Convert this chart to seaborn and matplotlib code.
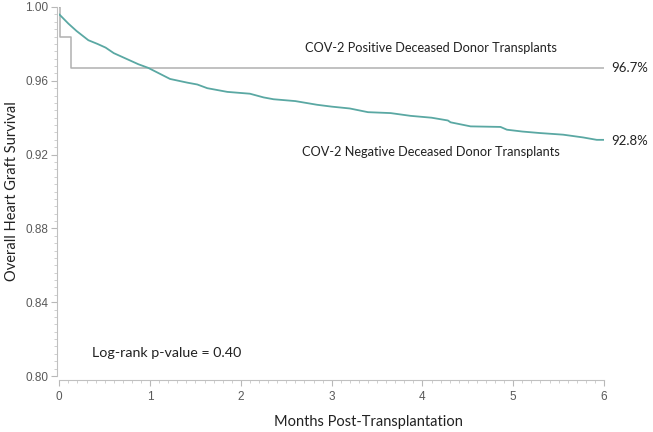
import numpy as np
import pandas as pd
import matplotlib
matplotlib.use("Agg")
import matplotlib.pyplot as plt
import seaborn as sns
from matplotlib.ticker import MultipleLocator

# Kaplan-Meier readings (months, survival)
neg_months = [0.00, 0.02, 0.10, 0.19, 0.32, 0.42, 0.51, 0.60, 0.69, 0.78,
              0.87, 0.98, 1.10, 1.22, 1.41, 1.52, 1.63, 1.85, 2.10, 2.25,
              2.36, 2.60, 2.84, 3.00, 3.20, 3.40, 3.65, 3.87, 4.10, 4.28,
              4.31, 4.53, 4.86, 4.93, 5.10, 5.29, 5.55, 5.77, 5.92, 6.00]
neg_surv = [0.996, 0.995, 0.991, 0.987, 0.982, 0.980, 0.978, 0.975, 0.973, 0.971,
            0.969, 0.967, 0.964, 0.961, 0.959, 0.958, 0.956, 0.954, 0.953, 0.951,
            0.950, 0.949, 0.947, 0.946, 0.945, 0.943, 0.9425, 0.941, 0.940, 0.9385,
            0.9375, 0.9353, 0.935, 0.9335, 0.9325, 0.9317, 0.9308, 0.9293, 0.928, 0.928]

pos_months = [0.00, 0.01, 0.13, 6.00]
pos_surv = [1.000, 0.984, 0.967, 0.967]

y_ticks = [0.80, 0.84, 0.88, 0.92, 0.96, 1.00]
x_ticks = [0, 1, 2, 3, 4, 5, 6]

neg = pd.DataFrame({"month": neg_months, "surv": neg_surv})
pos = pd.DataFrame({"month": pos_months, "surv": pos_surv})

sns.set_theme(style="white")
plt.rcParams["font.family"] = ["Liberation Sans", "DejaVu Sans"]

fig = plt.figure(figsize=(6.53, 4.32), dpi=100)
ax = fig.add_axes([0.0908, 0.1296, 0.8342, 0.8542])

sns.lineplot(data=pos, x="month", y="surv", drawstyle="steps-post",
             color="#b0b0b0", linewidth=1.1, ax=ax)
sns.lineplot(data=neg, x="month", y="surv",
             color="#5aa8a3", linewidth=1.3, ax=ax)

ax.set_xlim(0, 6)
ax.set_ylim(0.80, 1.00)
ax.set_xticks(x_ticks)
ax.set_yticks(y_ticks)
ax.set_yticklabels([f"{v:.2f}" for v in y_ticks])
ax.xaxis.set_minor_locator(MultipleLocator(0.1))
ax.yaxis.set_minor_locator(MultipleLocator(0.004))
ax.tick_params(which="major", length=4, width=0.8, color="#b8b8b8",
               labelsize=8.5, labelcolor="#595959", direction="out")
ax.tick_params(which="minor", length=2, width=0.6, color="#c8c8c8", direction="out")
ax.tick_params(axis="x", pad=4)
ax.tick_params(axis="y", pad=2)
ax.tick_params(bottom=True, left=True, which="both")

for side in ["top", "right"]:
    ax.spines[side].set_visible(False)
for side in ["left", "bottom"]:
    ax.spines[side].set_color("#c0c0c0")
    ax.spines[side].set_linewidth(0.8)
ax.spines["bottom"].set_position(("outward", 3))
ax.spines["left"].set_position(("outward", 2))

lab_font = ["Lato", "DejaVu Sans"]
ax.set_xlabel("Months Post-Transplantation", fontsize=10.5, family=lab_font,
              color="#222222", va="center")
ax.xaxis.set_label_coords(0.567, -0.124)
ax.set_ylabel("Overall Heart Graft Survival", fontsize=10.5, family=lab_font,
              color="#222222", va="center")
ax.yaxis.set_label_coords(-0.087, 0.5)

ax.text(4.09, 0.9778, "COV-2 Positive Deceased Donor Transplants", fontsize=9.2,
        family=lab_font, ha="center", va="center", color="#222222")
ax.text(4.09, 0.9214, "COV-2 Negative Deceased Donor Transplants", fontsize=9.2,
        family=lab_font, ha="center", va="center", color="#222222")
ax.text(6.08, 0.967, "96.7%", fontsize=9.5, family=lab_font,
        ha="left", va="center", color="#222222", clip_on=False)
ax.text(6.08, 0.9276, "92.8%", fontsize=9.5, family=lab_font,
        ha="left", va="center", color="#222222", clip_on=False)
ax.text(0.36, 0.8125, "Log-rank p-value = 0.40", fontsize=10.3, family=lab_font,
        ha="left", va="center", color="#222222")

fig.savefig("out.png", dpi=100)
plt.close(fig)
